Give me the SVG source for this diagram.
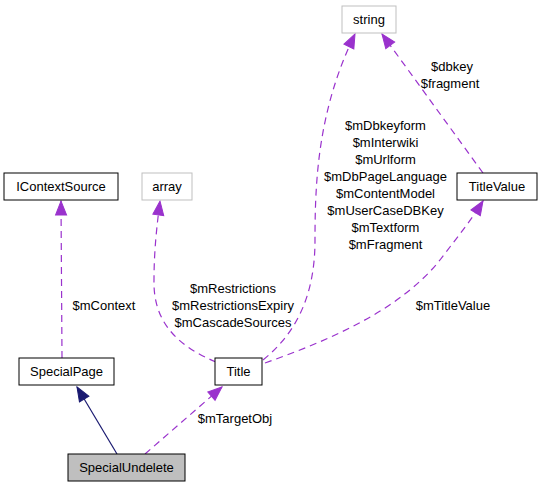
<svg xmlns="http://www.w3.org/2000/svg" width="543" height="488" viewBox="0 0 543 488">
<style>
text{font-family:"Liberation Sans",Arial,sans-serif;font-size:13px;fill:#000;text-anchor:middle}
.n{fill:#fff;stroke:#000;stroke-width:1}
.g{fill:#fff;stroke:#bfbfbf;stroke-width:1}
.e{fill:none;stroke:#9a32cd;stroke-width:1.2;stroke-dasharray:7,5}
.s{fill:none;stroke:#191970;stroke-width:1.2}
</style>
<defs>
<marker id="ap" markerUnits="userSpaceOnUse" markerWidth="16" markerHeight="12" refX="14" refY="5.5" orient="auto" overflow="visible"><path d="M0,0 L14,5.5 L0,11 z" fill="#9a32cd" stroke="#9a32cd"/></marker>
<marker id="an" markerUnits="userSpaceOnUse" markerWidth="16" markerHeight="12" refX="14" refY="5.5" orient="auto" overflow="visible"><path d="M0,0 L14,5.5 L0,11 z" fill="#191970" stroke="#191970"/></marker>
</defs>
<rect width="543" height="488" fill="#fff"/>
<g id="edges">
<path class="s" d="M117,454 L77,387" marker-end="url(#an)"/>
<path class="e" d="M145,454 L222,387" marker-end="url(#ap)"/>
<path class="e" d="M62,358 L61,201" marker-end="url(#ap)"/>
<path class="e" d="M216,362 C175,345 153,320 154,280 C154,250 157,225 160,201" marker-end="url(#ap)"/>
<path class="e" d="M263,360 C300,330 315,290 315,240 C315,180 318,110 355,34" marker-end="url(#ap)"/>
<path class="e" d="M265,363 C330,340 400,310 440,260 C455,240 470,222 483,201" marker-end="url(#ap)"/>
<path class="e" d="M483,173 L382,34" marker-end="url(#ap)"/>
<text x="104" y="310">$mContext</text>
<text x="233" y="293">$mRestrictions</text>
<text x="233" y="310">$mRestrictionsExpiry</text>
<text x="233" y="327">$mCascadeSources</text>
<text x="385.5" y="130">$mDbkeyform</text>
<text x="385.5" y="147">$mInterwiki</text>
<text x="385.5" y="164">$mUrlform</text>
<text x="385.5" y="181">$mDbPageLanguage</text>
<text x="385.5" y="198">$mContentModel</text>
<text x="385.5" y="215">$mUserCaseDBKey</text>
<text x="385.5" y="232">$mTextform</text>
<text x="385.5" y="249">$mFragment</text>
<text x="453" y="310">$mTitleValue</text>
<text x="452" y="71">$dbkey</text>
<text x="450" y="88">$fragment</text>
<text x="235" y="423">$mTargetObj</text>
</g>
<g id="SpecialUndelete"><rect x="68" y="454" width="117" height="27" fill="#bfbfbf" stroke="#000"/><text x="126.5" y="472">SpecialUndelete</text></g>
<g id="SpecialPage"><rect class="n" x="19" y="358" width="95" height="27"/><text x="66.5" y="376">SpecialPage</text></g>
<g id="Title"><rect class="n" x="215" y="358" width="47" height="27"/><text x="238.5" y="376">Title</text></g>
<g id="IContextSource"><rect class="n" x="4" y="173" width="114" height="27"/><text x="61" y="191">IContextSource</text></g>
<g id="array"><rect class="g" x="142" y="173" width="50" height="27"/><text x="167" y="191">array</text></g>
<g id="TitleValue"><rect class="n" x="457" y="173" width="80" height="27"/><text x="497" y="191">TitleValue</text></g>
<g id="string"><rect class="g" x="342" y="6" width="54" height="27"/><text x="369" y="24">string</text></g>
</svg>
